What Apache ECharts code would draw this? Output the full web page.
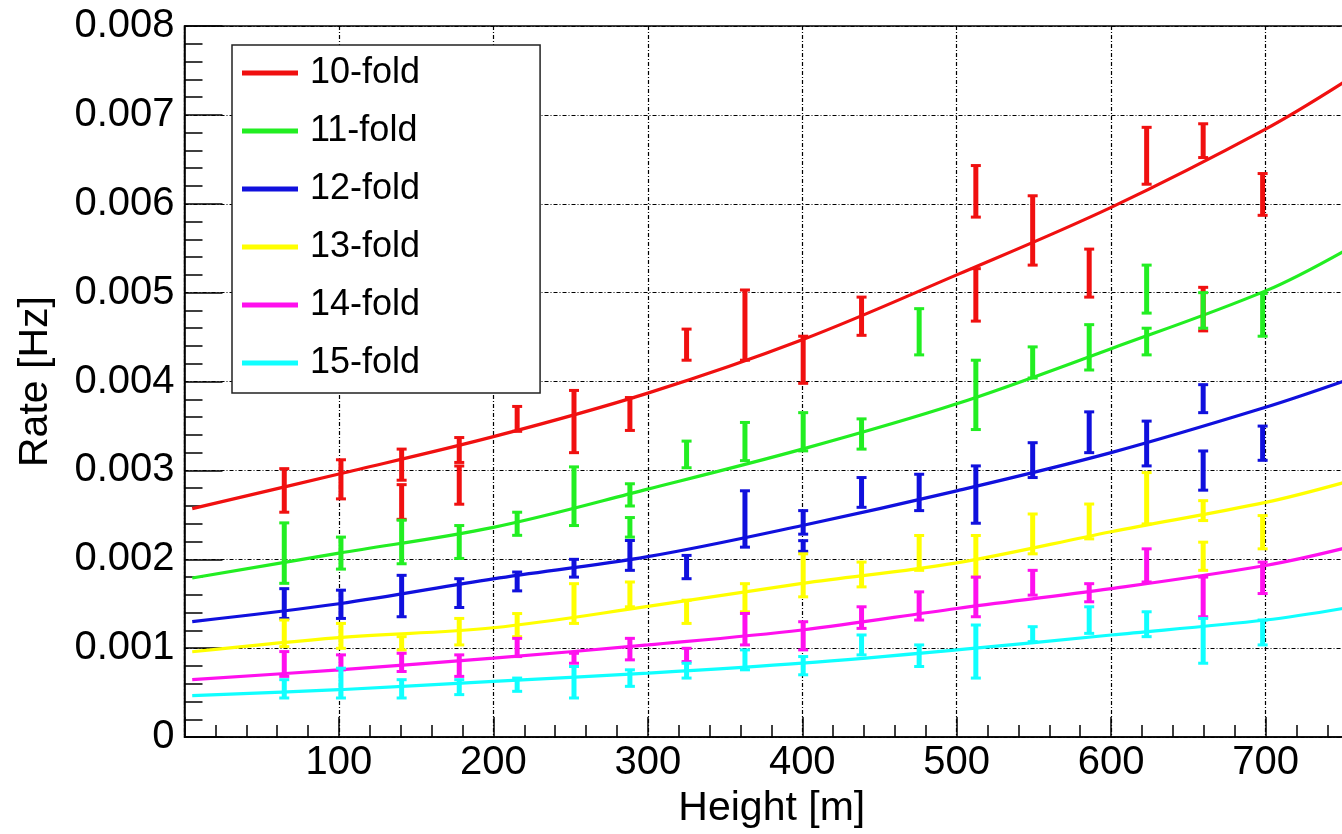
<!DOCTYPE html>
<html>
<head>
<meta charset="utf-8">
<script src="https://cdn.jsdelivr.net/npm/echarts@6/dist/echarts.min.js"></script>
<style>
  html, body { margin: 0; padding: 0; background: #fff; overflow: hidden; width: 1342px; height: 834px; }
  /* the plot frame continues past the right edge of the page */
  #chart { width: 1420px; height: 834px; }
</style>
</head>
<body>
<div id="chart"></div>
<script>
// Measurement heights [m]
const HEIGHTS = [64.6, 101.3, 140.6, 177.9, 215.4, 252.2, 288.4, 325.1, 362.9, 400.6, 438.4, 475.7, 512.4, 549.2, 585.8, 623.0, 659.6, 698.1];

// Rate error intervals [Hz] per multiplicity (low / high edge), null = no point
const RED_LO = [0.00253, 0.00268, 0.00289, 0.00309, 0.00344, 0.00320, 0.00345, 0.00424, 0.00424, 0.00398, 0.00452, null, 0.00585, 0.00531, 0.00495, 0.00622, 0.00652, 0.00587];
const RED_HI = [0.00302, 0.00312, 0.00324, 0.00337, 0.00372, 0.00390, 0.00382, 0.00459, 0.00503, 0.00451, 0.00495, null, 0.00643, 0.00609, 0.00549, 0.00686, 0.00690, 0.00634];
const RED_EXTRA = [[140.6, 0.00245, 0.00284], [177.9, 0.00262, 0.00305], [512.4, 0.00468, 0.00527], [659.6, 0.00457, 0.00506]];

const GREEN_LO = [0.00173, 0.00189, 0.00195, 0.00201, 0.00227, 0.00238, 0.00260, 0.00303, 0.00311, 0.00322, 0.00324, 0.00430, 0.00346, 0.00404, 0.00413, 0.00477, 0.00460, 0.00451];
const GREEN_HI = [0.00241, 0.00225, 0.00244, 0.00238, 0.00253, 0.00304, 0.00285, 0.00333, 0.00354, 0.00365, 0.00358, 0.00482, 0.00424, 0.00439, 0.00464, 0.00531, 0.00500, 0.00499];
const GREEN_EXTRA = [[288.4, 0.00225, 0.00247], [623.0, 0.00430, 0.00460]];

const BLUE_LO = [0.001335, 0.001335, 0.001354, 0.001458, 0.001645, 0.00180, 0.001876, 0.001782, 0.002137, 0.002283, 0.002585, 0.002548, 0.002406, 0.00292, 0.00320, 0.003051, 0.00365, 0.003114];
const BLUE_HI = [0.00167, 0.001653, 0.00182, 0.001782, 0.001857, 0.00200, 0.002212, 0.002044, 0.002771, 0.002548, 0.00292, 0.002957, 0.003051, 0.003312, 0.003659, 0.003555, 0.003965, 0.003499];
const BLUE_EXTRA = [[400.6, 0.00209, 0.00221], [659.6, 0.002778, 0.003219]];

const YELLOW_LO = [0.001018, 0.000999, 0.00098, 0.001037, 0.00113, 0.001279, 0.001466, 0.001279, 0.00141, 0.001578, 0.00169, 0.001876, 0.00180, 0.002062, 0.00223, 0.002398, 0.002436, 0.002118];
const YELLOW_HI = [0.001317, 0.001279, 0.00113, 0.001335, 0.00139, 0.001726, 0.001745, 0.00154, 0.001726, 0.002062, 0.001969, 0.002268, 0.002268, 0.00251, 0.002622, 0.002976, 0.00266, 0.002492];
const YELLOW_EXTRA = [[659.6, 0.001876, 0.002193]];

const MAGENTA_LO = [0.000683, 0.000757, 0.000738, 0.000683, 0.000906, 0.000831, 0.000869, 0.00085, 0.001037, 0.000981, 0.001223, 0.001317, 0.001354, 0.001597, 0.001522, 0.001745, 0.001354, 0.001615];
const MAGENTA_HI = [0.000962, 0.000925, 0.000943, 0.000925, 0.001111, 0.000943, 0.001111, 0.000999, 0.001391, 0.001298, 0.001466, 0.001634, 0.00180, 0.001876, 0.001726, 0.002118, 0.00180, 0.001969];
const MAGENTA_EXTRA = [];

const CYAN_LO = [0.00044, 0.00044, 0.00044, 0.000478, 0.000515, 0.00044, 0.000571, 0.000664, 0.000757, 0.000701, 0.000925, 0.000794, 0.000664, 0.001074, 0.001167, 0.00113, 0.000831, 0.001037];
const CYAN_HI = [0.000646, 0.000775, 0.000646, 0.000646, 0.000664, 0.000794, 0.000757, 0.000831, 0.000981, 0.000906, 0.001149, 0.001037, 0.001261, 0.001242, 0.001466, 0.00141, 0.001335, 0.001317];
const CYAN_EXTRA = [];

// Fitted rate curves, sampled along the height axis
const FIT_X = [5, 100, 200, 300, 400, 500, 600, 700, 750];
const RED_FIT = [0.00257, 0.00296, 0.00338, 0.00387, 0.00447, 0.00520, 0.00596, 0.00684, 0.00736];
const GREEN_FIT = [0.00179, 0.00207, 0.00236, 0.00279, 0.00324, 0.00375, 0.00437, 0.00502, 0.00546];
const BLUE_FIT = [0.00130, 0.00150, 0.00178, 0.00203, 0.00238, 0.00277, 0.00320, 0.00371, 0.00400];
const YELLOW_FIT = [0.00096, 0.00112, 0.00123, 0.00147, 0.00173, 0.00196, 0.00231, 0.00264, 0.00286];
const MAGENTA_FIT = [0.000646, 0.000757, 0.000888, 0.001037, 0.001205, 0.001447, 0.00167, 0.00193, 0.00212];
const CYAN_FIT = [0.000466, 0.000533, 0.000627, 0.00072, 0.000832, 0.000981, 0.001149, 0.001317, 0.001447];

const NAMES = ['10-fold', '11-fold', '12-fold', '13-fold', '14-fold', '15-fold'];
const COLORS = ['#f01010', '#22ee22', '#1010dd', '#ffff00', '#ff10ee', '#10ffff'];

const groups = [
  [RED_LO, RED_HI, RED_EXTRA, RED_FIT],
  [GREEN_LO, GREEN_HI, GREEN_EXTRA, GREEN_FIT],
  [BLUE_LO, BLUE_HI, BLUE_EXTRA, BLUE_FIT],
  [YELLOW_LO, YELLOW_HI, YELLOW_EXTRA, YELLOW_FIT],
  [MAGENTA_LO, MAGENTA_HI, MAGENTA_EXTRA, MAGENTA_FIT],
  [CYAN_LO, CYAN_HI, CYAN_EXTRA, CYAN_FIT]
];

function errorData(lo, hi, extra) {
  const rows = [];
  HEIGHTS.forEach((h, i) => {
    if (lo[i] != null) rows.push([h, lo[i], hi[i]]);
  });
  return rows.concat(extra);
}

// vertical error bar with short end caps
function renderErrorBar(params, api) {
  const x = api.value(0);
  const top = api.coord([x, api.value(2)]);
  const bot = api.coord([x, api.value(1)]);
  const color = api.visual('color');
  const cap = 5;
  return {
    type: 'group',
    children: [
      { type: 'line', shape: { x1: top[0], y1: top[1], x2: bot[0], y2: bot[1] }, style: { stroke: color, lineWidth: 5 } },
      { type: 'line', shape: { x1: top[0] - cap, y1: top[1], x2: top[0] + cap, y2: top[1] }, style: { stroke: color, lineWidth: 3 } },
      { type: 'line', shape: { x1: bot[0] - cap, y1: bot[1], x2: bot[0] + cap, y2: bot[1] }, style: { stroke: color, lineWidth: 3 } }
    ]
  };
}

const lineSeries = groups.map((g, k) => ({
  name: NAMES[k],
  type: 'line',
  data: FIT_X.map((x, i) => [x, g[3][i]]),
  smooth: 0.35,
  showSymbol: false,
  lineStyle: { color: COLORS[k], width: 3.2 },
  itemStyle: { color: COLORS[k] },
  z: 2
}));

const barSeries = groups.map((g, k) => ({
  name: NAMES[k],
  type: 'custom',
  renderItem: renderErrorBar,
  data: errorData(g[0], g[1], g[2]),
  encode: { x: 0, y: [1, 2] },
  itemStyle: { color: COLORS[k] },
  z: 3
}));

const FONT = "'Liberation Sans', Arial, Helvetica, sans-serif";
const chart = echarts.init(document.getElementById('chart'), null, { renderer: 'canvas' });

chart.setOption({
  backgroundColor: '#ffffff',
  animation: false,
  grid: {
    left: 184.5, top: 26, right: 0, bottom: 93,
    show: true, borderColor: '#000', borderWidth: 1.5, backgroundColor: 'transparent'
  },
  legend: {
    data: NAMES.map((n, k) => ({ name: n, itemStyle: { color: COLORS[k] } })),
    orient: 'vertical',
    left: 232, top: 45,
    icon: 'rect',
    itemWidth: 56, itemHeight: 5, itemGap: 18,
    padding: [8, 120, 10, 10],
    backgroundColor: '#ffffff',
    borderColor: '#222', borderWidth: 1.5,
    textStyle: { fontFamily: FONT, fontSize: 36, color: '#000', lineHeight: 40, padding: [0, 0, 0, 7] },
    selectedMode: false
  },
  xAxis: {
    type: 'value',
    min: 0, max: 800, interval: 100,
    name: 'Height [m]',
    nameLocation: 'middle',
    nameGap: 46,
    nameTextStyle: { fontFamily: FONT, fontSize: 41, color: '#000', padding: [0, 61, 0, 0] },
    axisLine: { show: true, lineStyle: { color: '#000', width: 1.5 } },
    axisTick: { show: true, inside: true, length: 20, lineStyle: { color: '#000', width: 1.5 } },
    minorTick: { show: true, splitNumber: 5, length: 12, lineStyle: { color: '#000', width: 1.5 } },
    axisLabel: { fontFamily: FONT, fontSize: 40, color: '#000', margin: 6, showMinLabel: false, showMaxLabel: false },
    splitLine: { show: true, lineStyle: { color: '#000', width: 1.2, type: [4, 2, 1, 2] } }
  },
  yAxis: {
    type: 'value',
    min: 0, max: 0.008, interval: 0.001,
    name: 'Rate [Hz]',
    nameLocation: 'middle',
    nameGap: 128,
    nameTextStyle: { fontFamily: FONT, fontSize: 41, color: '#000' },
    axisLine: { show: true, lineStyle: { color: '#000', width: 1.5 } },
    axisTick: { show: true, inside: true, length: 38, lineStyle: { color: '#000', width: 1.5 } },
    minorTick: { show: true, splitNumber: 5, length: 18, lineStyle: { color: '#000', width: 1.5 } },
    axisLabel: {
      fontFamily: FONT, fontSize: 40, color: '#000', margin: 10,
      formatter: v => (v === 0 ? '0' : v.toFixed(3))
    },
    splitLine: { show: true, lineStyle: { color: '#000', width: 1.2, type: [4, 2, 1, 2] } }
  },
  series: lineSeries.concat(barSeries)
});
</script>
</body>
</html>
